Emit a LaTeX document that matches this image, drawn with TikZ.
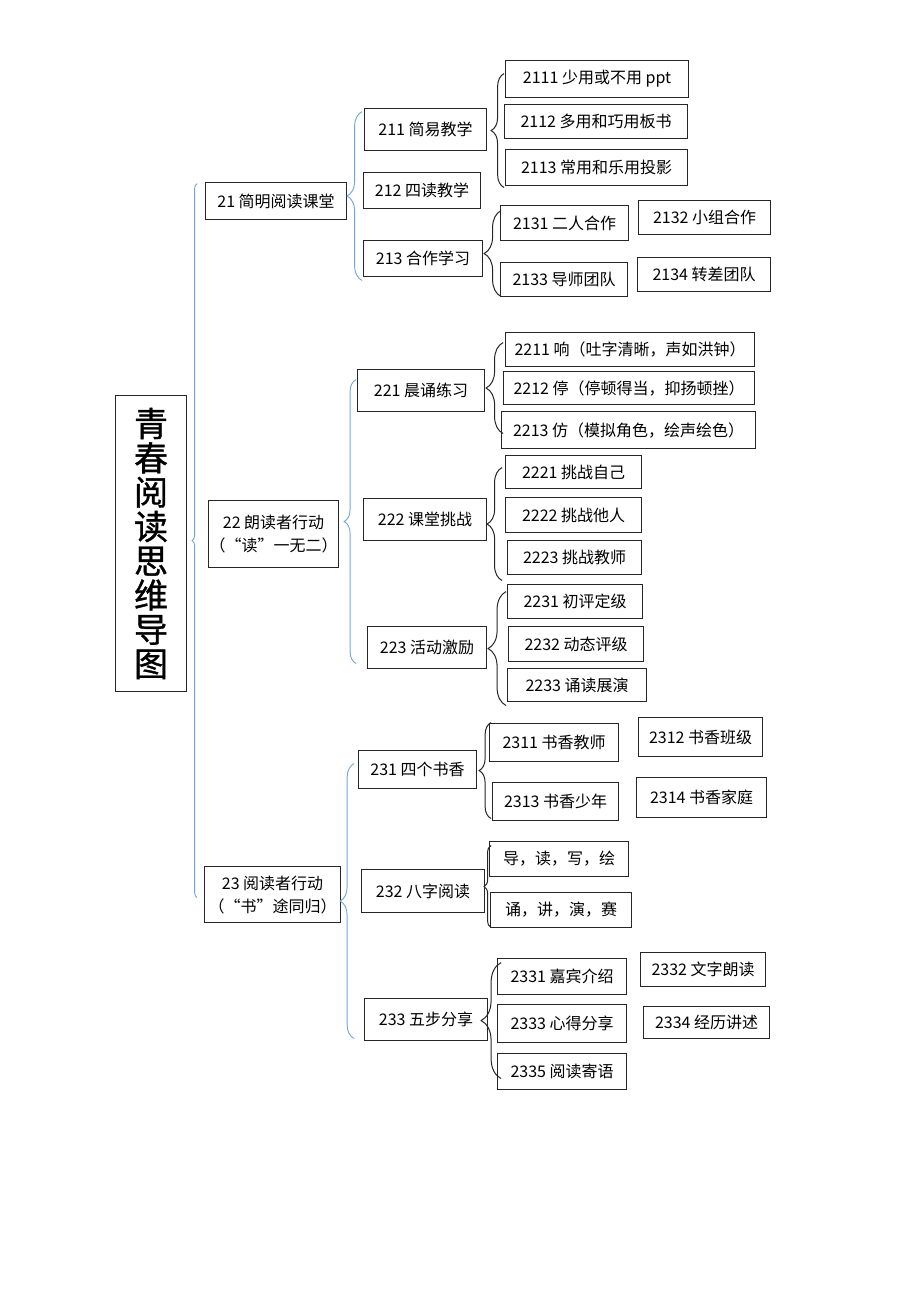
\documentclass[tikz,border=0pt]{standalone}
\usepackage{fontspec}
\setmainfont{Noto Sans CJK SC}
\newfontfamily\titlefont{Noto Sans CJK SC}[FakeBold=1]
\usetikzlibrary{decorations.pathreplacing}
\definecolor{bluebr}{RGB}{110,165,222}
\tikzset{
  box/.style 2 args={draw=black!85, line width=1.1pt, anchor=north west, inner sep=0pt,
    minimum width=#1pt, minimum height=#2pt, align=center},
  bluebrace/.style={decorate, decoration={brace, amplitude=#1pt}, draw=bluebr, line width=0.9pt},
  blackbrace/.style={decorate, decoration={brace, amplitude=#1pt}, draw=black!85, line width=1pt}
}

\begin{document}
\begin{tikzpicture}[x=1pt, y=-1pt, font=\fontsize{16}{23}\selectfont]
\useasboundingbox (0,0) rectangle (920,1302);

\node[box={71}{296}, font=\titlefont\fontsize{34}{34.3}\selectfont] (root) at (115,395) {青\\春\\阅\\读\\思\\维\\导\\图};

\node[box={141}{37}] (n21) at (205,182) {21 简明阅读课堂};
\node[box={130}{67}] (n22) at (208,500) {22 朗读者行动\\（“读”一无二）};
\node[box={136}{56}] (n23) at (204,866) {23 阅读者行动\\（“书”途同归）};

\node[box={122}{42}] (n211) at (364,108) {211 简易教学};
\node[box={117}{36}] (n212) at (363,172) {212 四读教学};
\node[box={119}{36}] (n213) at (363,240) {213 合作学习};

\node[box={183}{37}] (n2111) at (505,60) {2111 少用或不用 ppt};
\node[box={183}{34}] (n2112) at (504,104) {2112 多用和巧用板书};
\node[box={182}{36}] (n2113) at (505,149) {2113 常用和乐用投影};

\node[box={128}{35}] (n2131) at (500,205) {2131 二人合作};
\node[box={132}{34}] (n2132) at (638,200) {2132 小组合作};
\node[box={127}{34}] (n2133) at (500,262) {2133 导师团队};
\node[box={133}{34}] (n2134) at (637,257) {2134 转差团队};

\node[box={127}{42}] (n221) at (357,369) {221 晨诵练习};
\node[box={123}{42}] (n222) at (363,498) {222 课堂挑战};
\node[box={119}{42}] (n223) at (367,626) {223 活动激励};

\node[box={249}{34}] (n2211) at (505,332) {2211 响（吐字清晰，声如洪钟）};
\node[box={251}{33}] (n2212) at (503,371) {2212 停（停顿得当，抑扬顿挫）};
\node[box={254}{37}] (n2213) at (501,411) {2213 仿（模拟角色，绘声绘色）};

\node[box={136}{33}] (n2221) at (505,455) {2221 挑战自己};
\node[box={136}{35}] (n2222) at (505,497) {2222 挑战他人};
\node[box={134}{34}] (n2223) at (507,540) {2223 挑战教师};

\node[box={135}{34}] (n2231) at (507,584) {2231 初评定级};
\node[box={135}{35}] (n2232) at (508,626) {2232 动态评级};
\node[box={139}{33}] (n2233) at (507,668) {2233 诵读展演};

\node[box={118}{38}] (n231) at (358,750) {231 四个书香};
\node[box={123}{43}] (n232) at (361,869) {232 八字阅读};
\node[box={123}{42}] (n233) at (364,998) {233 五步分享};

\node[box={129}{38}] (n2311) at (489,723) {2311 书香教师};
\node[box={124}{39}] (n2312) at (638,717) {2312 书香班级};
\node[box={126}{38}] (n2313) at (492,782) {2313 书香少年};
\node[box={130}{40}] (n2314) at (636,777) {2314 书香家庭};

\node[box={139}{35}] (n2321) at (489,841) {导，读，写，绘};
\node[box={141}{35}] (n2322) at (490,892) {诵，讲，演，赛};

\node[box={129}{36}] (n2331) at (497,958) {2331 嘉宾介绍};
\node[box={125}{34}] (n2332) at (640,952) {2332 文字朗读};
\node[box={129}{38}] (n2333) at (497,1004) {2333 心得分享};
\node[box={126}{32}] (n2334) at (643,1006) {2334 经历讲述};
\node[box={129}{36}] (n2335) at (497,1053) {2335 阅读寄语};

\draw[bluebrace=5] (root.east) ++(10,354) -- ++(0,-714);
\draw[bluebrace=15] (n21.east) ++(15,79.5) -- ++(0,-169);
\draw[bluebrace=12] (n22.east) ++(17,129.5) -- ++(0,-284);
\draw[bluebrace=14] (n23.east) ++(13,144) -- ++(0,-275);

\draw[blackbrace=13] (n211.east) ++(17,58) -- ++(0,-114);
\draw[blackbrace=17] (n213.east) ++(18,38) -- ++(0,-86);
\draw[blackbrace=17] (n221.east) ++(18,43) -- ++(0,-91);
\draw[blackbrace=15] (n222.east) ++(15,61) -- ++(0,-113);
\draw[blackbrace=18] (n223.east) ++(19,58) -- ++(0,-114);
\draw[blackbrace=12] (n231.east) ++(14,49) -- ++(0,-96);
\draw[blackbrace=7] (n232.east) ++(6,36.5) -- ++(0,-82);
\draw[blackbrace=20] (n233.east) ++(13,59) -- ++(0,-116);
\end{tikzpicture}
\end{document}
